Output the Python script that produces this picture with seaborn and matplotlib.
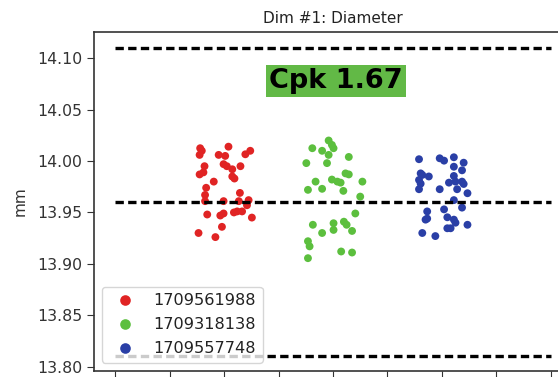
import matplotlib
matplotlib.use("Agg")
import matplotlib.pyplot as plt
import seaborn as sns
import pandas as pd

# ---- data ----
series_names = ["1709561988", "1709318138", "1709557748"]
series_colors = ["#e02424", "#5cbf3e", "#2a3fa6"]

red_x = [2.08, 1.56, 1.59, 1.55, 1.90, 2.02, 2.39, 2.48, 1.64, 1.99, 2.05, 2.30,
         2.15, 1.55, 1.62, 2.15, 2.19, 1.81, 1.67, 2.29, 1.65, 1.65, 1.99, 2.27,
         2.45, 2.42, 2.33, 2.24, 2.18, 1.99, 1.93, 1.69, 2.51, 1.96, 1.53, 1.84]
red_y = [14.014, 14.0125, 14.010, 14.006, 14.006, 14.005, 14.0066, 14.010, 13.995,
         13.997, 13.995, 13.995, 13.992, 13.987, 13.989, 13.985, 13.983, 13.980,
         13.974, 13.969, 13.967, 13.961, 13.961, 13.961, 13.962, 13.957, 13.951,
         13.951, 13.950, 13.949, 13.947, 13.948, 13.945, 13.936, 13.930, 13.926]

green_x = [3.92, 3.98, 4.01, 3.62, 3.80, 3.92, 4.29, 3.51, 3.89, 4.23, 4.29, 3.98,
           4.08, 4.14, 3.68, 4.54, 3.54, 3.80, 4.19, 4.50, 4.41, 3.63, 4.01, 4.20,
           4.25, 4.01, 3.80, 4.35, 3.54, 3.57, 4.15, 4.35, 3.54]
green_y = [14.020, 14.0157, 14.0125, 14.0125, 14.010, 14.006, 14.004, 13.998, 13.998,
           13.988, 13.987, 13.982, 13.980, 13.979, 13.980, 13.980, 13.972, 13.973,
           13.971, 13.9654, 13.949, 13.938, 13.9395, 13.941, 13.938, 13.933, 13.930,
           13.932, 13.922, 13.917, 13.912, 13.911, 13.9055]

blue_x = [5.58, 5.96, 6.04, 6.22, 6.40, 6.22, 5.61, 5.64, 5.76, 6.37, 6.22, 5.58,
          5.61, 6.13, 6.25, 6.37, 6.40, 5.58, 5.96, 6.28, 6.47, 6.22, 5.73, 6.04,
          6.37, 5.70, 5.73, 6.10, 6.22, 6.25, 6.47, 6.10, 6.16, 5.64, 5.88]
blue_y = [14.0018, 14.0027, 14.0004, 14.0037, 13.9984, 13.9945, 13.988, 13.9865,
          13.985, 13.991, 13.9855, 13.9816, 13.978, 13.979, 13.980, 13.980, 13.9777,
          13.9726, 13.9726, 13.9726, 13.9687, 13.962, 13.951, 13.953, 13.9547, 13.943,
          13.944, 13.9453, 13.943, 13.940, 13.938, 13.9346, 13.9346, 13.930, 13.927]

spec_limits = [14.11, 13.96, 13.81]   # USL, nominal, LSL
y_ticks = [13.80, 13.85, 13.90, 13.95, 14.00, 14.05, 14.10]
x_ticks = [0, 1, 2, 3, 4, 5, 6, 7, 8]
title = "Dim #1: Diameter"
y_label = "mm"
cpk_label = "Cpk 1.67"

# ---- build table ----
frames = []
for name, xs, ys in zip(series_names, [red_x, green_x, blue_x], [red_y, green_y, blue_y]):
    frames.append(pd.DataFrame({"x": xs, "y": ys, "lot": name}))
df = pd.concat(frames, ignore_index=True)

plt.rcParams["font.family"] = ["DejaVu Sans"]
fig = plt.figure(figsize=(5.58, 3.77), dpi=100)
ax = fig.add_axes([94 / 558, 6.3 / 377, (572 - 94) / 558, (370.7 - 32.3) / 377])

sns.scatterplot(data=df, x="x", y="y", hue="lot", hue_order=series_names,
                palette=series_colors, s=32, linewidth=0, ax=ax, zorder=2)

for yv in spec_limits:
    ax.hlines(yv, x_ticks[0], x_ticks[-1], colors="black", linewidth=2.4,
              linestyles=(0, (2.5, 1.3)), zorder=3)

ax.set_xlim(-0.39, 8.39)
ax.set_ylim(13.796, 14.1253)
ax.set_xticks(x_ticks)
ax.set_yticks(y_ticks)
ax.set_yticklabels([f"{v:.2f}" for v in y_ticks])
ax.tick_params(axis="x", labelbottom=False, length=5, color="#333333")
ax.tick_params(axis="y", labelsize=11.3, labelcolor="#333333", length=5, color="#333333")
ax.set_xlabel("")
ax.set_ylabel(y_label, fontsize=11, color="#333333", labelpad=7)
ax.set_title(title, fontsize=11, color="#222222", pad=7)
for sp in ax.spines.values():
    sp.set_color("#333333")
    sp.set_linewidth(1.2)

leg = ax.legend(loc="lower left", fontsize=11.6, markerscale=1.35, framealpha=0.8,
                edgecolor="#cccccc", labelspacing=0.55)
for t in leg.get_texts():
    t.set_color("#222222")
leg.set_zorder(5)

fig.text(336 / 558, 1 - 81 / 377, cpk_label, ha="center", va="center",
         fontsize=19.5, fontweight="bold", color="black",
         bbox=dict(boxstyle="square,pad=0.1", facecolor="#62b946", edgecolor="none"))

fig.savefig("out.png", dpi=100)
